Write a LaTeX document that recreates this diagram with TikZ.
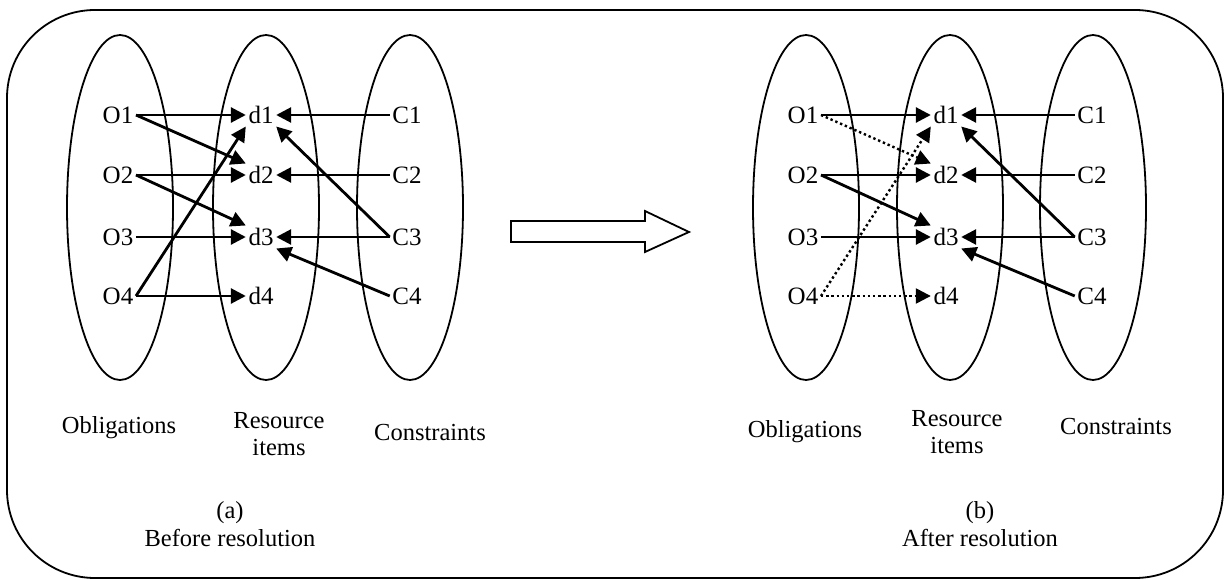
\documentclass[tikz,border=0pt]{standalone}
\usepackage{fontspec}
\setmainfont{Liberation Serif}
\usetikzlibrary{arrows.meta}
\begin{document}
\begin{tikzpicture}[x=1pt,y=-1pt,
  lbl/.style={font=\fontsize{25}{28}\selectfont, inner sep=2.5pt},
  captxt/.style={font=\fontsize{24.5}{27.5}\selectfont, align=center, inner sep=0pt},
  ell/.style={line width=1.8pt},
  link/.style={line width=2.8pt, -{Triangle[length=15pt,width=15pt]}},
  dotlink/.style={line width=2.4pt, dash pattern=on 2.4pt off 2.8pt, -{Triangle[length=15pt,width=15pt]}}]
\useasboundingbox (0,0) rectangle (1225,580);
% frame
\draw[line width=1.8pt, rounded corners=88pt] (7,10) rectangle (1223,578);
% hollow arrow
\draw[line width=1.8pt, line join=miter] (511,221) -- (645,221) -- (645,211) -- (689,232) -- (645,252) -- (645,242) -- (511,242) -- cycle;

% ---------------- left panel
\draw[ell] (120,207.5) ellipse [x radius=53, y radius=172.5];
\draw[ell] (266,207.5) ellipse [x radius=53, y radius=172.5];
\draw[ell] (410,207.5) ellipse [x radius=53, y radius=172.5];
\node[lbl] (aO1) at (118,115) {O1};
\node[lbl] (aO2) at (118,175) {O2};
\node[lbl] (aO3) at (118,237) {O3};
\node[lbl] (aO4) at (118,296) {O4};
\node[lbl] (ad1) at (261,115) {d1};
\node[lbl] (ad2) at (261,175) {d2};
\node[lbl] (ad3) at (261,237) {d3};
\node[lbl] (ad4) at (261,296) {d4};
\node[lbl] (aC1) at (407,115) {C1};
\node[lbl] (aC2) at (407,175) {C2};
\node[lbl] (aC3) at (407,237) {C3};
\node[lbl] (aC4) at (407,296) {C4};
\draw[link] (aO1.east) -- (ad1.west);
\draw[link] (aO1.east) -- (ad2.north west);
\draw[link] (aO2.east) -- (ad2.west);
\draw[link] (aO2.east) -- (ad3.north west);
\draw[link] (aO3.east) -- (ad3.west);
\draw[link] (aO4.east) -- (ad1.south west);
\draw[link] (aO4.east) -- (ad4.west);
\draw[link] (aC1.west) -- (ad1.east);
\draw[link] (aC2.west) -- (ad2.east);
\draw[link] (aC3.west) -- (ad3.east);
\draw[link] (aC3.west) -- (ad1.south east);
\draw[link] (aC4.west) -- (ad3.south east);
\node[captxt] (aob) at (119,428) {Obligations};
\node[captxt] (ari) at (279,434) {Resource\\items};
\node[captxt] (aco) at (430,433) {Constraints};
\node[captxt] (acap) at (230,524) {(a)\\Before resolution};

% ---------------- right panel
\draw[ell] (806,207.5) ellipse [x radius=53, y radius=172.5];
\draw[ell] (950,207.5) ellipse [x radius=53, y radius=172.5];
\draw[ell] (1093,207.5) ellipse [x radius=53, y radius=172.5];
\node[lbl] (bO1) at (803,115) {O1};
\node[lbl] (bO2) at (803,175) {O2};
\node[lbl] (bO3) at (803,237) {O3};
\node[lbl] (bO4) at (803,296) {O4};
\node[lbl] (bd1) at (946,115) {d1};
\node[lbl] (bd2) at (946,175) {d2};
\node[lbl] (bd3) at (946,237) {d3};
\node[lbl] (bd4) at (946,296) {d4};
\node[lbl] (bC1) at (1092,115) {C1};
\node[lbl] (bC2) at (1092,175) {C2};
\node[lbl] (bC3) at (1092,237) {C3};
\node[lbl] (bC4) at (1092,296) {C4};
\draw[link] (bO1.east) -- (bd1.west);
\draw[dotlink] (bO1.east) -- (bd2.north west);
\draw[link] (bO2.east) -- (bd2.west);
\draw[link] (bO2.east) -- (bd3.north west);
\draw[link] (bO3.east) -- (bd3.west);
\draw[dotlink] (bO4.east) -- (bd1.south west);
\draw[dotlink] (bO4.east) -- (bd4.west);
\draw[link] (bC1.west) -- (bd1.east);
\draw[link] (bC2.west) -- (bd2.east);
\draw[link] (bC3.west) -- (bd3.east);
\draw[link] (bC3.west) -- (bd1.south east);
\draw[link] (bC4.west) -- (bd3.south east);
\node[captxt] (bob) at (805,432) {Obligations};
\node[captxt] (bri) at (957,432) {Resource\\items};
\node[captxt] (bco) at (1116,427) {Constraints};
\node[captxt] (bcap) at (980,524) {(b)\\After resolution};
\end{tikzpicture}
\end{document}
